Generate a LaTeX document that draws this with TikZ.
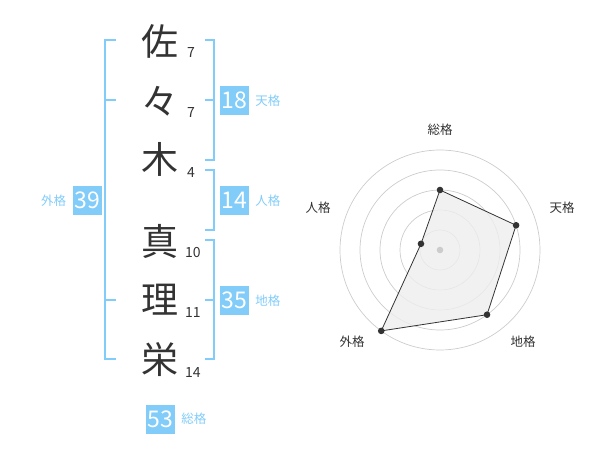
\documentclass[tikz,border=0pt]{standalone}
\usepackage{fontspec}
\setmainfont{Noto Sans CJK JP}
\usetikzlibrary{positioning}
\definecolor{kaku}{RGB}{130,204,250}
\definecolor{ink}{RGB}{51,51,51}
\definecolor{web}{RGB}{204,204,204}
\definecolor{area}{RGB}{238,238,238}
\tikzset{
  moji/.style = {font=\fontsize{37}{37}\selectfont, text=ink, inner sep=0pt},
  kakusu/.style = {font=\fontsize{14}{14}\selectfont, text=ink, inner sep=0pt, anchor=west},
  hako/.style = {fill=kaku, text=white, minimum size=29pt, inner sep=0pt,
    font=\fontsize{23}{23}\selectfont},
  namae/.style = {text=kaku, font=\fontsize{12.5}{12.5}\selectfont, inner sep=0pt},
  kakko/.style = {kaku, line width=2pt},
  jiku/.style = {text=ink, font=\fontsize{12.5}{12.5}\selectfont, inner sep=0pt}
}

\begin{document}
\begin{tikzpicture}[x=1pt,y=-1pt]
  \useasboundingbox (0,0) rectangle (600,470);
  % name
  \node[moji] (sa)  at (160,41)  {佐};
  \node[moji] (no)  at (160,101) {々};
  \node[moji] (ki)  at (160,159) {木};
  \node[moji] (ma)  at (160,241) {真};
  \node[moji] (ri)  at (160,300) {理};
  \node[moji] (ei)  at (160,360) {栄};
  \node[kakusu] (k1) at (187,53)  {7};
  \node[kakusu] (k2) at (187,113) {7};
  \node[kakusu] (k3) at (187,173) {4};
  \node[kakusu] (k4) at (185,253) {10};
  \node[kakusu] (k5) at (185,313) {11};
  \node[kakusu] (k6) at (185,373) {14};
  % brackets
  \draw[kakko] (116,40) -- (105,40) -- (105,359) -- (116,359);
  \draw[kakko] (105,100) -- (116,100);
  \draw[kakko] (105,300) -- (116,300);
  \draw[kakko] (205,40) -- (214,40) -- (214,160) -- (205,160);
  \draw[kakko] (205,100) -- (214,100);
  \draw[kakko] (205,170) -- (214,170) -- (214,230) -- (205,230);
  \draw[kakko] (205,240) -- (214,240) -- (214,359) -- (205,359);
  \draw[kakko] (205,300) -- (214,300);
  % values
  \node[hako] (ten)  at (234.5,100.5) {18};
  \node[namae, right=6pt of ten] {天格};
  \node[hako] (jin)  at (234.5,200.5) {14};
  \node[namae, right=6pt of jin] {人格};
  \node[hako] (chi)  at (234.5,300.5) {35};
  \node[namae, right=6pt of chi] {地格};
  \node[hako] (gai)  at (87,200.5) {39};
  \node[namae, left=6pt of gai] {外格};
  \node[hako] (sou)  at (160.5,419) {53};
  \node[namae, right=6pt of sou] {総格};
  % radar
  \begin{scope}[shift={(440,250)},yscale=-1]
    \coordinate (o) at (0,0);
    \foreach \r in {20,40,60,80,100}
      \draw[web,line width=0.7pt] (o) circle (\r);
    \coordinate (pSou) at (90:60);
    \coordinate (pTen) at (18:80);
    \coordinate (pChi) at (-54:80);
    \coordinate (pGai) at (-126:100);
    \coordinate (pJin) at (162:20);
    \draw[ink,fill=area,fill opacity=0.8,line width=0.8pt]
      (pSou) -- (pTen) -- (pChi) -- (pGai) -- (pJin) -- cycle;
    \fill[web] (o) circle (3.3);
    \foreach \p in {pSou,pTen,pChi,pGai,pJin}
      \fill[ink] (\p) circle (3.3);
  \end{scope}
  \node[jiku] (lSou) at (440,130) {総格};
  \node[jiku] (lTen) at (562,208) {天格};
  \node[jiku] (lChi) at (523,342) {地格};
  \node[jiku] (lGai) at (352,342) {外格};
  \node[jiku] (lJin) at (318,208) {人格};
\end{tikzpicture}
\end{document}
